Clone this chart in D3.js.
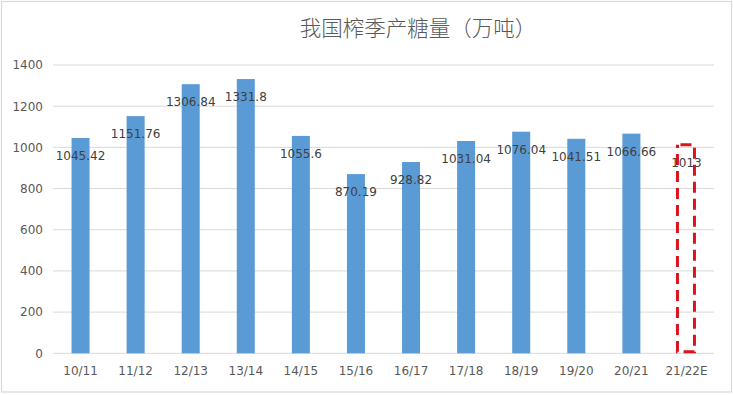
<!DOCTYPE html>
<html><head><meta charset="utf-8">
<script src="https://cdn.jsdelivr.net/npm/d3@7"></script>
<style>html,body{margin:0;padding:0;background:#fff;}svg{display:block;}</style>
</head><body>
<svg id="chart" width="733" height="395"></svg>
<script>
const title = "我国榨季产糖量（万吨）";
const categories = ["10/11","11/12","12/13","13/14","14/15","15/16","16/17","17/18","18/19","19/20","20/21","21/22E"];
const values = [1045.42,1151.76,1306.84,1331.8,1055.6,870.19,928.82,1031.04,1076.04,1041.51,1066.66,1013];
const labels = ["1045.42","1151.76","1306.84","1331.8","1055.6","870.19","928.82","1031.04","1076.04","1041.51","1066.66","1013"];
const estimated = [false,false,false,false,false,false,false,false,false,false,false,true];
const yTicks = [0,200,400,600,800,1000,1200,1400];

const svg = d3.select("#chart");
const font = "'DejaVu Sans', sans-serif";
const plotL = 53, plotR = 714, plotT = 65, plotB = 353.3;

svg.append("rect").attr("x",1.5).attr("y",1.5).attr("width",730).attr("height",390.5)
  .attr("fill","#fff").attr("stroke","#d9d9d9").attr("stroke-width",1.2);

const x = d3.scaleBand().domain(categories).range([plotL,plotR]).paddingInner(0.673).paddingOuter(0.3365);
const y = d3.scaleLinear().domain([0,1400]).range([plotB,plotT]);

// gridlines
svg.append("g").selectAll("line").data(yTicks).join("line")
  .attr("x1",plotL).attr("x2",plotR)
  .attr("y1",d=>y(d)).attr("y2",d=>y(d))
  .attr("stroke","#d9d9d9").attr("stroke-width",1);

// y axis labels
const yAxis = d3.axisLeft(y).tickValues(yTicks).tickSize(0).tickPadding(0).tickFormat(d3.format("d"));
const gy = svg.append("g").attr("transform",`translate(43,0)`).call(yAxis);
gy.select(".domain").remove();
gy.selectAll("text").attr("font-family",font).attr("font-size",12).attr("fill","#595959");

// x axis labels
const xAxis = d3.axisBottom(x).tickSize(0).tickPadding(0);
const gx = svg.append("g").attr("transform",`translate(0,366)`).call(xAxis);
gx.select(".domain").remove();
gx.selectAll("text").attr("font-family",font).attr("font-size",12).attr("fill","#595959").attr("dy","0.71em");

const data = categories.map((c,i)=>({c, v:values[i], l:labels[i], e:estimated[i]}));

// bars
svg.append("g").selectAll("rect").data(data.filter(d=>!d.e)).join("rect")
  .attr("x",d=>x(d.c)).attr("width",x.bandwidth())
  .attr("y",d=>y(d.v)).attr("height",d=>y(0)-y(d.v))
  .attr("fill","#5b9bd5");

// estimated dashed bar
svg.append("g").selectAll("rect").data(data.filter(d=>d.e)).join("rect")
  .attr("x",d=>x(d.c)).attr("width",x.bandwidth()-1)
  .attr("y",d=>y(d.v)).attr("height",d=>y(0)-y(d.v)-1.5)
  .attr("fill","none").attr("stroke","#d9141e").attr("stroke-width",3)
  .attr("stroke-dasharray","11,6").attr("stroke-dashoffset",-3);

// value labels
svg.append("g").selectAll("text").data(data).join("text")
  .attr("x",d=>x(d.c)+x.bandwidth()/2)
  .attr("y",d=>y(d.v)+18)
  .attr("dy","0.35em")
  .attr("text-anchor","middle")
  .attr("font-family",font).attr("font-size",12).attr("fill","#404040")
  .text(d=>d.l);

// title
svg.append("text").attr("x",418).attr("y",28).attr("dy","0.35em")
  .attr("text-anchor","middle")
  .attr("font-family","'Noto Sans CJK SC', sans-serif").attr("font-size",21.5)
  .attr("font-weight",300)
  .attr("fill","#595959").text(title);
</script>
</body></html>
